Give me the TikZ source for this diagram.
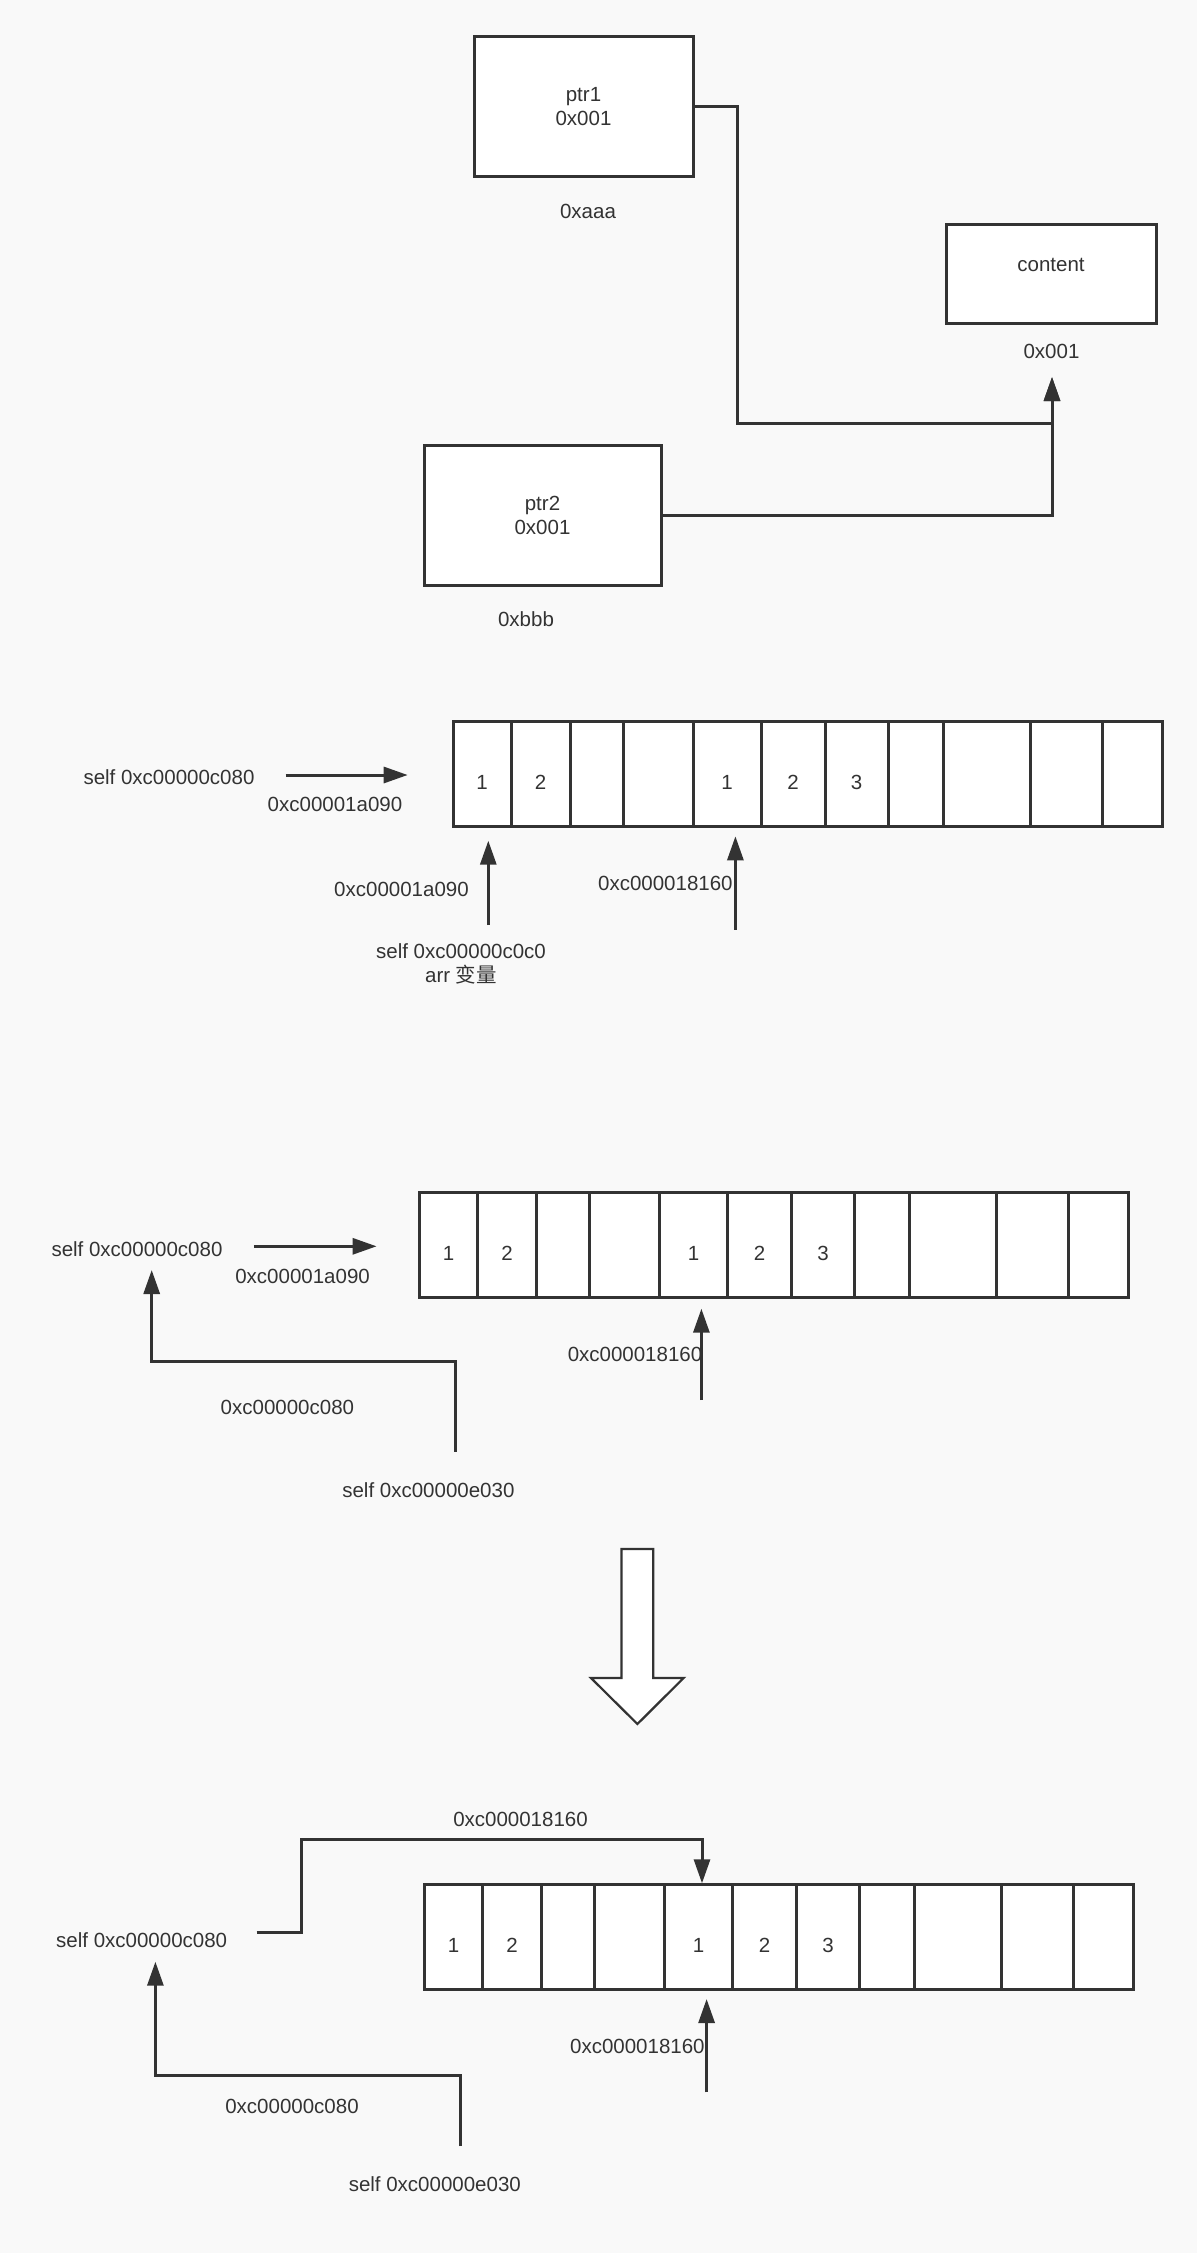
\documentclass[tikz,border=0pt]{standalone}
\usepackage{fontspec}
\setmainfont{Liberation Sans}
\newfontfamily\cjk{Noto Sans CJK SC}
\usetikzlibrary{arrows.meta}
\definecolor{ink}{HTML}{333333}
\definecolor{paper}{HTML}{F9F9F9}

\begin{document}
\begin{tikzpicture}[x=1pt,y=-1pt,
  every node/.style={font=\fontsize{20.5}{24}\selectfont, text=ink, inner sep=0pt},
  box/.style={draw=ink, line width=3pt, fill=white},
  cell/.style={draw=ink, line width=3pt, fill=white, minimum height=105pt},
  wire/.style={draw=ink, line width=3pt},
  ptr/.style={wire, -{Triangle[length=24pt,width=16pt]}},
]
\fill[paper] (0,0) rectangle (1197,2253);
\useasboundingbox (0,0) rectangle (1197,2253);

% ---------- two pointers sharing one target ----------
\node[box, minimum width=219pt, minimum height=140pt, align=center] (ptr1) at (583.5,107) {ptr1\\0x001};
\node (ptr1addr) at (588,211) {0xaaa};
\node[box, minimum width=210pt, minimum height=99pt] (content) at (1051,273.5) {};
\node (contenttxt) at (1051,265) {content};
\node (contentaddr) at (1051.5,351) {0x001};
\node[box, minimum width=237pt, minimum height=140pt, align=center] (ptr2) at (542.5,515) {ptr2\\0x001};
\node (ptr2addr) at (526,619) {0xbbb};
\coordinate (cin) at (1052,377);
\draw[ptr] (ptr1.east) -| (737,423) -| (cin);
\draw[ptr] (ptr2.east) -| (cin);

% ---------- backing array, drawn three times ----------
\newcommand{\memrow}[3]{% prefix, x offset, y centre
  \foreach \l/\r [count=\i] in {453/511, 511/570, 570/623, 623/693, 693/761, 761/825,
                                825/888, 888/943, 943/1030, 1030/1102, 1102/1162}
    \node[cell, minimum width={(\r-\l)*1pt}] (#1\i) at ({(\l+\r)/2+#2}, #3) {};
  \foreach \i/\v in {1/1, 2/2, 5/1, 6/2, 7/3}
    \node (#1n\i) at ([yshift=-9pt]#1\i.center) {\v};
}

% ---------- state 1 ----------
\memrow{a}{0}{773.5}
\node (s2self) at (169,777) {self 0xc00000c080};
\coordinate (s2r0) at (285.6,775);
\coordinate (s2r1) at (407.7,775);
\draw[ptr] (s2r0) -- (s2r1);
\node (s2ptr) at (335,804.7) {0xc00001a090};
\node (s2lo) at (401.5,889.3) {0xc00001a090};
\node (s2mid) at (665.4,883.3) {0xc000018160};
\node[align=center] (s2var) at (461,964) {self 0xc00000c0c0\\arr {\cjk 变量}};
\coordinate (s2u0) at (488.3,925);
\coordinate (s2u1) at (488.3,840.7);
\draw[ptr] (s2u0) -- (s2u1);
\coordinate (s2v0) at (735.4,929.7);
\coordinate (s2v1) at (735.4,836.3);
\draw[ptr] (s2v0) -- (s2v1);

% ---------- state 2 ----------
\memrow{b}{-33.5}{1244.7}
\node (s3self) at (137,1249) {self 0xc00000c080};
\coordinate (s3r0) at (253.8,1246.3);
\coordinate (s3r1) at (376.6,1246.3);
\draw[ptr] (s3r0) -- (s3r1);
\node (s3ptr) at (302.6,1276) {0xc00001a090};
\node (s3link) at (287.4,1407.3) {0xc00000c080};
\node (s3other) at (428.4,1490) {self 0xc00000e030};
\coordinate (s3e0) at (455.7,1451.7);
\coordinate (s3e1) at (151.7,1270);
\draw[ptr] (s3e0) -- (455.7,1361.7) -| (s3e1);
\node (s3mid) at (635,1354.3) {0xc000018160};
\coordinate (s3v0) at (701.4,1400);
\coordinate (s3v1) at (701.4,1308.7);
\draw[ptr] (s3v0) -- (s3v1);

% ---------- transition ----------
\draw[ink, line width=2.2pt, fill=white, line join=miter]
  (621.5,1549) -- (653.3,1549) -- (653.3,1678) -- (683.6,1678) -- (637.4,1724)
  -- (591,1678) -- (621.5,1678) -- cycle;

% ---------- state 3 ----------
\memrow{c}{-28.5}{1936.5}
\node (s5top) at (520.5,1819) {0xc000018160};
\node (s5self) at (141.7,1940) {self 0xc00000c080};
\coordinate (s5t0) at (256.7,1932);
\draw[ptr] (s5t0) -- (301.1,1932) |- (702,1839) -- (702,1883.3);
\node (s5link) at (292,2106) {0xc00000c080};
\node (s5other) at (434.8,2184.3) {self 0xc00000e030};
\coordinate (s5e0) at (460.2,2146);
\coordinate (s5e1) at (155.4,1961.7);
\draw[ptr] (s5e0) -- (460.2,2075.3) -| (s5e1);
\node (s5mid) at (637.4,2046.7) {0xc000018160};
\coordinate (s5v0) at (706.6,2092.3);
\coordinate (s5v1) at (706.6,1999);
\draw[ptr] (s5v0) -- (s5v1);

\end{tikzpicture}
\end{document}
